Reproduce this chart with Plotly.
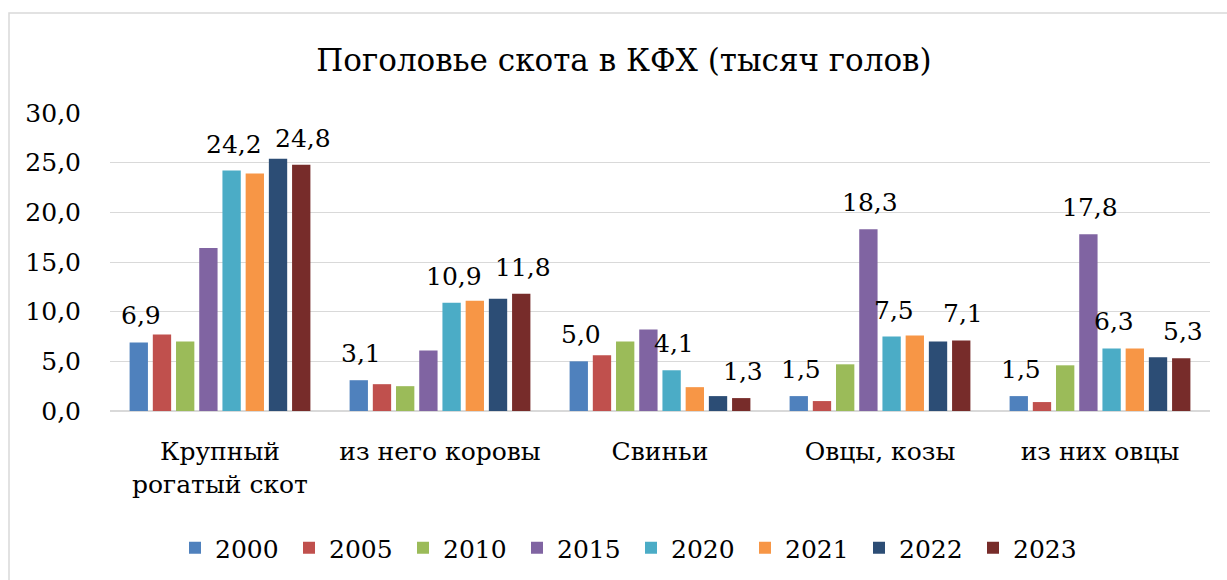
import plotly.graph_objects as go

categories = ["Крупный<br>рогатый скот", "из него коровы", "Свиньи", "Овцы, козы", "из них овцы"]
years = ["2000", "2005", "2010", "2015", "2020", "2021", "2022", "2023"]

v2000 = [6.9, 3.1, 5.0, 1.5, 1.5]
v2005 = [7.7, 2.7, 5.6, 1.0, 0.9]
v2010 = [7.0, 2.5, 7.0, 4.7, 4.6]
v2015 = [16.4, 6.1, 8.2, 18.3, 17.8]
v2020 = [24.2, 10.9, 4.1, 7.5, 6.3]
v2021 = [23.9, 11.1, 2.4, 7.6, 6.3]
v2022 = [25.4, 11.3, 1.5, 7.0, 5.4]
v2023 = [24.8, 11.8, 1.3, 7.1, 5.3]

series = [v2000, v2005, v2010, v2015, v2020, v2021, v2022, v2023]
# which points carry a data label (1 = shown)
label_2000 = [1, 1, 1, 1, 1]
label_2005 = [0, 0, 0, 0, 0]
label_2010 = [0, 0, 0, 0, 0]
label_2015 = [0, 0, 0, 1, 1]
label_2020 = [1, 1, 1, 1, 1]
label_2021 = [0, 0, 0, 0, 0]
label_2022 = [0, 0, 0, 0, 0]
label_2023 = [1, 1, 1, 1, 1]
labels = [label_2000, label_2005, label_2010, label_2015, label_2020, label_2021, label_2022, label_2023]
colors = ["#4F81BD", "#C0504D", "#9BBB59", "#8064A2", "#4BACC6", "#F79646", "#2C4D75", "#772C2A"]

FONT = "DejaVu Serif"
W, H = 1227, 580
ML, MR, MT, MB = 110, 17, 113, 169
BARGAP = 0.156
n = len(years)
slot_px = (W - ML - MR) / len(categories) * (1 - BARGAP) / n

fig = go.Figure()
annotations = []
for k, (yr, vals, mask, col) in enumerate(zip(years, series, labels, colors)):
    fig.add_trace(go.Bar(
        name=yr, x=categories, y=vals, marker=dict(color=col, line=dict(width=0)),
        hoverinfo="y",
    ))
    for cat, v, m in zip(categories, vals, mask):
        if m:
            annotations.append(dict(
                x=cat, y=v, xref="x", yref="y", text=f"{v:.1f}".replace(".", ","),
                showarrow=False, xanchor="center", yanchor="bottom",
                xshift=(k - (n - 1) / 2) * slot_px + 2, yshift=10,
                font=dict(family=FONT, size=25, color="black"),
            ))

fig.update_layout(
    width=W, height=H,
    margin=dict(l=ML, r=MR, t=MT, b=MB, autoexpand=False),
    paper_bgcolor="white", plot_bgcolor="white",
    separators=", ",
    barmode="group", bargap=BARGAP, bargroupgap=0.21,
    font=dict(family=FONT, size=25, color="black"),
    title=dict(text="Поголовье скота в КФХ (тысяч голов)", x=624/1227, xanchor="center",
               y=1 - 60/580, yanchor="middle", font=dict(family=FONT, size=31, color="black")),
    legend=dict(orientation="h", x=631/1227, xanchor="center", xref="container",
                y=1 - 548/580, yanchor="middle", yref="container",
                font=dict(family=FONT, size=25, color="black"), itemwidth=30, tracegroupgap=0,
                entrywidth=69, entrywidthmode="pixels"),
    yaxis=dict(range=[0, 30], dtick=5, tickformat=".1f", showgrid=True, gridcolor="#d9d9d9",
               gridwidth=1, zeroline=True, zerolinecolor="#d9d9d9", zerolinewidth=1.5,
               showline=False, ticks="", tickfont=dict(family=FONT, size=25), ticklabelstandoff=28,
               automargin=False),
    xaxis=dict(showline=False, ticks="", tickfont=dict(family=FONT, size=25), tickangle=0,
               automargin=False, ticklabelstandoff=23),
    annotations=annotations,
    shapes=[dict(type="rect", xref="paper", yref="paper", x0=(9-ML)/(W-ML-MR), x1=1.2,
                 y0=-0.8, y1=(411-13)/(H-MT-MB), line=dict(color="#d9d9d9", width=1.5), layer="below")],
)

fig.write_html("out.html", config={"displayModeBar": False},
               post_script="document.body.style.margin='0px';")
